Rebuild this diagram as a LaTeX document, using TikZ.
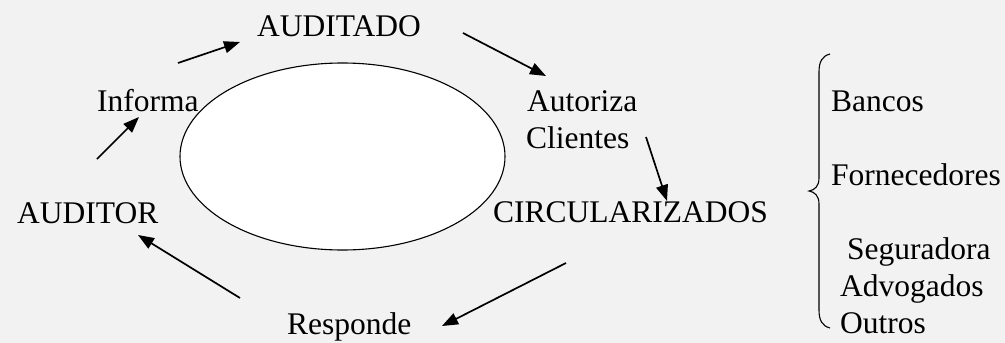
\documentclass[tikz,border=0pt]{standalone}
\usepackage{fontspec}
\setmainfont{Liberation Serif}
\usetikzlibrary{arrows.meta}
\definecolor{bg}{HTML}{F2F2F2}
\tikzset{
  lbl/.style={anchor=base west, inner sep=0pt, font=\fontsize{31.5}{37}\selectfont},
  flow/.style={line width=1.7pt, -{Triangle[length=16pt,width=12pt]}},
}
\begin{document}
\begin{tikzpicture}[x=1pt,y=-1pt]
\fill[bg] (0,0) rectangle (1005,343);
\useasboundingbox (0,0) rectangle (1005,343);
\draw[fill=white, line width=1.1pt] (342.5,156.5) ellipse [x radius=162.5, y radius=93.5];

\node[lbl] (auditado) at (257,36) {AUDITADO};
\node[lbl] (informa) at (97,111) {Informa};
\node[lbl] (auditor) at (17,223) {AUDITOR};
\node[lbl] (responde) at (287,334) {Responde};
\node[lbl] (autoriza) at (527,111) {Autoriza};
\node[lbl] (clientes) at (526,148) {Clientes};
\node[lbl] (circ) at (493,222) {CIRCULARIZADOS};
\node[lbl] (bancos) at (831,111) {Bancos};
\node[lbl] (fornec) at (831,185) {Fornecedores};
\node[lbl] (segur) at (847,259) {Seguradora};
\node[lbl] (advog) at (840,296) {Advogados};
\node[lbl] (outros) at (840,333) {Outros};

\coordinate (a1s) at (178,63);  \coordinate (a1e) at (240,42);
\coordinate (a2s) at (463,33);  \coordinate (a2e) at (546,76);
\coordinate (a3s) at (646,137); \coordinate (a3e) at (667,201);
\coordinate (a4s) at (566,263); \coordinate (a4e) at (442,326);
\coordinate (a5s) at (240,298); \coordinate (a5e) at (138,235);
\coordinate (a6s) at (97,159);  \coordinate (a6e) at (139,117);

\draw[flow] (a1s) -- (a1e);
\draw[flow] (a2s) -- (a2e);
\draw[flow] (a3s) -- (a3e);
\draw[flow] (a4s) -- (a4e);
\draw[flow] (a5s) -- (a5e);
\draw[flow] (a6s) -- (a6e);

\draw[line width=1.1pt] (830,54) .. controls (822,56) and (819,62) .. (819,72)
  -- (819,178) .. controls (819,186) and (815,190) .. (809,191)
  .. controls (815,192) and (819,196) .. (819,204)
  -- (819,310) .. controls (819,320) and (822,326) .. (830,328);
\end{tikzpicture}
\end{document}
